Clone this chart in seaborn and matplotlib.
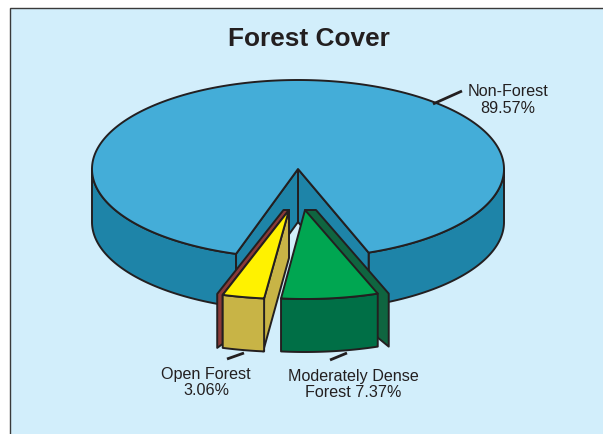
import numpy as np
import matplotlib
matplotlib.use("Agg")
import matplotlib.pyplot as plt
import seaborn as sns
from matplotlib.patches import Rectangle

sns.set_theme(style="white")
plt.rcParams['font.family'] = ['Liberation Sans', 'DejaVu Sans']

categories = ["Non-Forest", "Open Forest", "Moderately Dense\nForest"]
shares = [89.57, 3.06, 7.37]
colors_top = ["#44ADD8", "#FFF200", "#00A651"]
colors_front = ["#1E84A8", "#C8B446", "#006F46"]
colors_radial = ["#1E84A8", "#8A3A38", "#0F6540"]
tan_face = "#C8B446"
ink = "#231F20"
panel = "#D2EEFB"

CX, CY, RX, RY, DEPTH = 298, 169, 206, 89, 53
LEFT_EDGE = -17.5  # angle from straight down, positive towards the right

fig, ax = plt.subplots(figsize=(6.03, 4.34), dpi=100)
fig.subplots_adjust(0, 0, 1, 1)
ax.set_xlim(0, 603)
ax.set_ylim(434, 0)
ax.axis("off")
fig.patch.set_facecolor("white")
ax.add_patch(Rectangle((10, 8), 640, 500, fc=panel, ec="#3a3a3a", lw=1.0, zorder=0))

def rim(a0, a1, ox=0, oy=0, k=1.0, n=200):
    t = np.radians(np.linspace(a0, a1, n))
    return ox + CX + k * RX * np.sin(t), oy + CY + RY * np.cos(t)

def poly(xs, ys, color, z):
    ax.fill(xs, ys, fc=color, ec=ink, lw=1.4, joinstyle="round", zorder=z)

deg = [s * 3.6 for s in shares]
open_a0 = LEFT_EDGE
open_a1 = open_a0 + deg[1]
mod_a0 = open_a1
mod_a1 = mod_a0 + deg[2]
main_a0 = mod_a1
main_a1 = main_a0 + deg[0]

# main slice: outer wall (front half only), inner faces, top
for a0, a1 in [(main_a0, 90), (270, main_a1)]:
    x, y = rim(a0, a1)
    poly(np.r_[x, x[::-1]], np.r_[y, y[::-1] + DEPTH], colors_front[0], 1)
for a in (main_a0, main_a1):
    x, y = rim(a, a, n=1)
    poly([CX, x[0], x[0], CX], [CY, y[0], y[0] + DEPTH, CY + DEPTH], colors_radial[0], 2)
x, y = rim(main_a0, main_a1, n=400)
poly(np.r_[CX, x], np.r_[CY, y], colors_top[0], 3)

# open forest slice, pulled out
ox, oy, strip, k = -9, 41, -5.5, 1.07
xa, ya = rim(open_a0, open_a0, ox, oy, k, 1)
poly([CX + ox + strip, xa[0] + strip, xa[0] + strip, xa[0], xa[0], CX + ox],
     [CY + oy, ya[0] - 1, ya[0] + DEPTH, ya[0] + DEPTH - 4, ya[0], CY + oy],
     colors_radial[1], 4)
xb, yb = rim(open_a1, open_a1, ox, oy, k, 1)
poly([CX + ox, xb[0], xb[0] - 1, CX + ox],
     [CY + oy, yb[0], yb[0] + DEPTH, CY + oy + DEPTH - 5], tan_face, 5)
x, y = rim(open_a0, open_a1, ox, oy, k)
poly(np.r_[x, x[::-1]], np.r_[y, y[::-1] + DEPTH], colors_front[1], 5)
poly(np.r_[CX + ox, x], np.r_[CY + oy, y], colors_top[1], 6)

# moderately dense forest slice, pulled out
ox, oy, strip, k = 7, 41, 11, 1.03
xe, ye = rim(mod_a1, mod_a1, ox, oy, k, 1)
poly([CX + ox, CX + ox + strip, xe[0] + strip, xe[0] + strip, xe[0]],
     [CY + oy, CY + oy, ye[0], ye[0] + DEPTH, ye[0] + DEPTH - 9], colors_radial[2], 7)
x, y = rim(mod_a0, mod_a1, ox, oy, k)
poly(np.r_[x, x[::-1]], np.r_[y, y[::-1] + DEPTH], colors_front[2], 8)
poly(np.r_[CX + ox, x], np.r_[CY + oy, y], colors_top[2], 9)

# leaders and labels
for xs, ys in [((433, 462), (104, 91)), ((227, 244), (359, 353)), ((330, 347), (360, 353))]:
    ax.plot(xs, ys, color=ink, lw=2.0, solid_capstyle="butt", zorder=10)

label_kw = dict(ha="center", va="center", fontsize=11.6, color=ink, linespacing=1.12)
ax.text(508, 100, f"{categories[0]}\n{shares[0]:.2f}%", **label_kw)
ax.text(206, 382.5, f"{categories[1]}\n{shares[1]:.2f}%", **label_kw)
ax.text(353, 384.5, f"{categories[2]} {shares[2]:.2f}%", **label_kw)
ax.text(309, 39, "Forest Cover", ha="center", va="center", fontsize=18.9,
        fontweight="bold", color=ink)

fig.savefig("out.png", dpi=100, facecolor="white")
